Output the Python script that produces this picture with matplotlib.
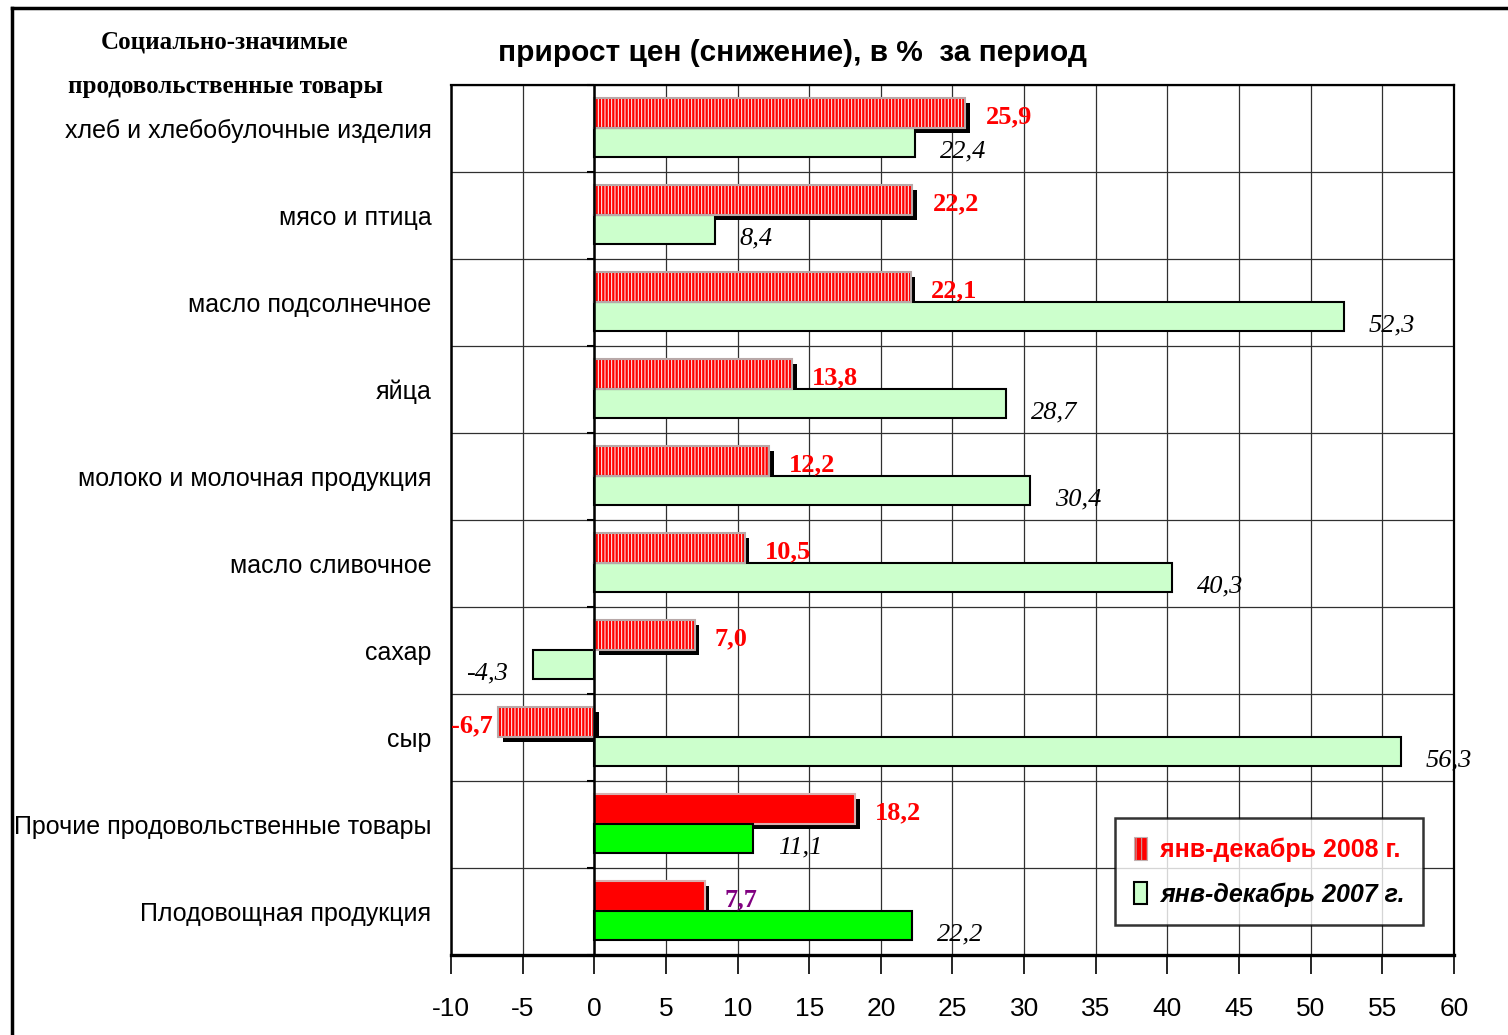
import matplotlib
matplotlib.use("Agg")
import matplotlib.pyplot as plt
import matplotlib.transforms as mtransforms
from matplotlib.patches import Patch
from matplotlib.lines import Line2D
import numpy as np

categories = [
    "хлеб и хлебобулочные изделия",
    "мясо и птица",
    "масло подсолнечное",
    "яйца",
    "молоко и молочная продукция",
    "масло сливочное",
    "сахар",
    "сыр",
    "Прочие продовольственные товары",
    "Плодовощная продукция",
]
values_2008 = [25.9, 22.2, 22.1, 13.8, 12.2, 10.5, 7.0, -6.7, 18.2, 7.7]
values_2007 = [22.4, 8.4, 52.3, 28.7, 30.4, 40.3, -4.3, 56.3, 11.1, 22.2]
labels_2008 = ["25,9", "22,2", "22,1", "13,8", "12,2", "10,5", "7,0", "-6,7", "18,2", "7,7"]
labels_2007 = ["22,4", "8,4", "52,3", "28,7", "30,4", "40,3", "-4,3", "56,3", "11,1", "22,2"]
xticks = list(range(-10, 61, 5))
legend_labels = ["янв-декабрь 2008 г.", "янв-декабрь 2007 г."]
title = "прирост цен (снижение), в %  за период"
header_lines = ["Социально-значимые", "продовольственные товары"]

SANS = ["Liberation Sans", "DejaVu Sans"]
SERIF = ["Liberation Serif", "DejaVu Serif"]

plt.rcParams["hatch.linewidth"] = 0.7

W, H = 1508, 1035
fig = plt.figure(figsize=(W / 100, H / 100), dpi=100)
ax = fig.add_axes([451 / W, 1 - 955 / H, (1454 - 451) / W, (955 - 85) / H])

n = len(categories)
y = np.arange(n)
h = 0.34
y_red = y - 0.18
y_grn = y + 0.16

# grid
ax.set_xlim(-10, 60)
ax.set_ylim(n - 0.5, -0.5)
for xv in xticks:
    ax.axvline(xv, color="#303030", lw=0.9, zorder=0)
for yb in np.arange(-0.5, n, 1.0):
    ax.axhline(yb, color="#303030", lw=0.9, zorder=0)

# shadows
offset = mtransforms.ScaledTranslation(0.045, -0.05, fig.dpi_scale_trans)
sh = ax.barh(y_red, values_2008, height=h, color="black", zorder=2)
for p in sh:
    p.set_transform(ax.transData + offset)

# red and green bars
light_green = "#ccffcc"
bright_green = "#00ff00"
for i in range(n):
    if i < 8:
        ax.barh(y_red[i], values_2008[i], height=h, facecolor="#ff0000",
                edgecolor="white", hatch="|||||", lw=0, zorder=3)
        ax.barh(y_red[i], values_2008[i], height=h, facecolor="none",
                edgecolor="#b8a8a8", lw=1.5, zorder=4)
        gc = light_green
    else:
        ax.barh(y_red[i], values_2008[i], height=h, facecolor="#ff0000",
                edgecolor="#d8b0b0", lw=1.5, zorder=3)
        gc = bright_green
    ax.barh(y_grn[i], values_2007[i], height=h, facecolor=gc,
            edgecolor="black", lw=1.5, zorder=3)

# value labels
for i in range(n):
    v = values_2008[i]
    col = "#800080" if i == n - 1 else "#ff0000"
    sgn = 1 if v >= 0 else -1
    ax.text(v, y_red[i] + 0.05, labels_2008[i], color=col, fontsize=19,
            fontweight="bold", family=SERIF, ha="left" if sgn > 0 else "right",
            va="center",
            transform=ax.transData + mtransforms.ScaledTranslation(
                0.2 if sgn > 0 else -0.06, 0, fig.dpi_scale_trans),
            zorder=6)
    g = values_2007[i]
    sg = 1 if g >= 0 else -1
    ax.text(g, y_grn[i] + 0.1, labels_2007[i], color="black", fontsize=19,
            style="italic", family=SERIF, ha="left" if sg > 0 else "right",
            va="center",
            transform=ax.transData + mtransforms.ScaledTranslation(
                0.25 * sg, 0, fig.dpi_scale_trans),
            zorder=6)

# zero axis line with ticks
ax.axvline(0, color="black", lw=1.8, zorder=5)
for yb in np.arange(-0.5, n, 1.0):
    ax.plot([0], [yb], marker=0, markersize=5, color="black", mew=1.5,
            zorder=5, clip_on=False)

# axes styling
ax.set_yticks(y)
ax.set_yticklabels(categories, family=SANS, fontsize=18)
ax.tick_params(axis="y", length=0, pad=14)
ax.set_xticks(xticks)
ax.set_xticklabels([str(t) for t in xticks], family=SANS, fontsize=19)
ax.tick_params(axis="x", length=14, width=1.2, direction="out", pad=16)
for s in ["top", "right"]:
    ax.spines[s].set_color("black")
    ax.spines[s].set_linewidth(1.6)
ax.spines["left"].set_linewidth(1.8)
ax.spines["bottom"].set_linewidth(2.4)

# legend
red_handle = Patch(facecolor="#ff0000", edgecolor="#c0b0b0", hatch="|||", lw=0.8)
grn_handle = Patch(facecolor=light_green, edgecolor="black", lw=1.5)
leg = ax.legend([red_handle, grn_handle], legend_labels, loc="upper left",
                bbox_to_anchor=(0.662, 0.157), frameon=True, fancybox=False,
                handlelength=0.55, handleheight=1.0, handletextpad=0.5,
                borderpad=0.75, labelspacing=0.8, borderaxespad=0,
                prop={"family": SANS, "size": 18, "weight": "bold"})
leg.get_frame().set_edgecolor("black")
leg.get_frame().set_linewidth(1.8)
leg.set_zorder(10)
t0, t1 = leg.get_texts()
t0.set_color("#ff0000")
t1.set_color("black")
t1.set_style("italic")

# title and header
fig.text(792 / W, 1 - 53 / H, title, family=SANS, fontsize=21.5, fontweight="bold",
         ha="center", va="center")
fig.text(225 / W, 1 - 42 / H, header_lines[0], family=SERIF, fontsize=18,
         fontweight="bold", ha="center", va="center")
fig.text(225 / W, 1 - 86 / H, header_lines[1], family=SERIF, fontsize=18,
         fontweight="bold", ha="center", va="center")

# frame border
fig.add_artist(Line2D([12 / W, 12 / W], [0, 1 - 8 / H], color="black", lw=2.5,
                      transform=fig.transFigure))
fig.add_artist(Line2D([12 / W, 1], [1 - 8 / H, 1 - 8 / H], color="black", lw=2.5,
                      transform=fig.transFigure))

fig.savefig("out.png", dpi=100)
